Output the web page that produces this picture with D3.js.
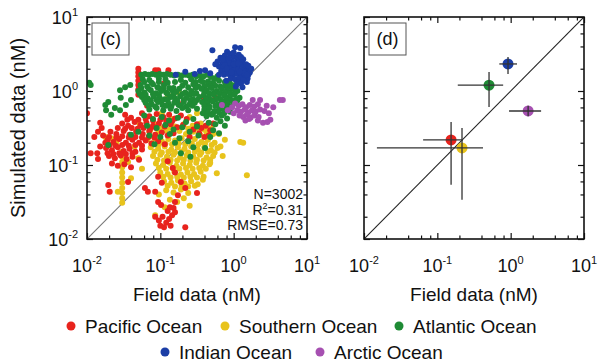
<!DOCTYPE html>
<meta charset="utf-8">
<script src="https://d3js.org/d3.v7.min.js"></script>
<style>
    body { margin: 0; background: #fff; }
    text { font-family: "Liberation Sans", Arial, Helvetica, sans-serif; fill: #111; }
</style>

<div id="base"></div>

<script>
    // panel (c): individual samples, [log10 field, log10 simulated] in nM
    var pacific = [
        [-2.00, -0.30], [-1.95, -0.84], [-1.86, -0.84], [-1.82, -0.43], [-1.78, -0.60], [-1.75, -0.70],
        [-1.85, -0.55], [-1.80, -0.50], [-1.90, -0.62], [-1.82, -0.75], [-1.85, -0.92],
        [-1.30, 0.30], [-1.30, 0.25], [-1.30, 0.20], [-1.30, 0.14], [-1.30, 0.08], [-1.30, 0.02], [-1.30, -0.05],
        [-1.07, 0.28], [-1.03, 0.28], [-0.89, 0.28], [-0.76, -0.16], [-0.42, -0.08], [-0.39, -0.26], [-0.25, -0.09], [-0.95, 0.10], [-1.18, -0.20],
        [-1.48, -0.32], [-1.40, -0.36], [-1.25, -0.30], [-1.15, -0.34], [-1.05, -0.31], [-0.96, -0.35], [-0.88, -0.32], [-0.80, -0.37], [-0.72, -0.33], [-0.64, -0.38],
        [-1.45, -0.39], [-1.30, -0.39], [-1.20, -0.38], [-1.10, -0.40], [-1.00, -0.39], [-0.92, -0.40], [-0.84, -0.41],
        [-1.52, -0.44], [-1.44, -0.47], [-1.35, -0.42], [-1.27, -0.46], [-1.19, -0.43], [-1.10, -0.47], [-1.02, -0.44], [-0.94, -0.48], [-0.86, -0.45], [-0.77, -0.49], [-0.69, -0.46],
        [-1.58, -0.50], [-1.48, -0.51], [-1.39, -0.50], [-1.31, -0.51], [-1.23, -0.50], [-1.14, -0.51], [-1.06, -0.50],
        [-1.68, -0.55], [-1.60, -0.58], [-1.50, -0.54], [-1.42, -0.59], [-1.33, -0.55], [-1.24, -0.58], [-1.15, -0.54], [-1.07, -0.59], [-0.98, -0.56], [-0.90, -0.60], [-0.82, -0.57],
        [-1.70, -0.62], [-1.60, -0.63], [-1.52, -0.61], [-1.43, -0.63], [-1.34, -0.62], [-1.25, -0.63], [-1.16, -0.62], [-1.08, -0.63],
        [-1.72, -0.66], [-1.64, -0.69], [-1.56, -0.65], [-1.47, -0.70], [-1.38, -0.66], [-1.29, -0.70], [-1.20, -0.67], [-1.12, -0.71], [-1.03, -0.68], [-0.94, -0.72],
        [-1.69, -0.73], [-1.61, -0.74], [-1.52, -0.73], [-1.43, -0.74], [-1.34, -0.73], [-1.25, -0.74],
        [-1.74, -0.77], [-1.66, -0.80], [-1.58, -0.76], [-1.50, -0.81], [-1.42, -0.78], [-1.34, -0.82], [-1.25, -0.79],
        [-1.72, -0.84], [-1.64, -0.85], [-1.56, -0.84], [-1.47, -0.85], [-1.38, -0.84],
        [-1.70, -0.88], [-1.62, -0.91], [-1.54, -0.87], [-1.46, -0.92], [-1.38, -0.89], [-1.29, -0.93],
        [-1.66, -0.98], [-1.58, -1.01], [-1.49, -0.99], [-1.40, -1.03],
        [-0.50, -0.45], [-0.44, -0.50], [-0.38, -0.47], [-0.32, -0.53], [-0.47, -0.57], [-0.40, -0.62], [-0.34, -0.60], [-0.28, -0.44], [-0.55, -0.52], [-0.60, -0.62],
        [-0.90, -0.95], [-0.80, -1.10], [-1.03, -1.16], [-0.98, -1.24], [-0.83, -1.04],
        [-1.71, -1.27], [-1.69, -1.36], [-1.44, -1.23], [-1.21, -1.31], [-1.17, -1.36], [-1.07, -1.36], [-1.03, -1.50], [-0.99, -1.54],
        [-0.76, -1.41], [-0.66, -1.31], [-0.72, -1.23], [-0.50, -1.38], [-0.87, -1.57], [-0.80, -1.50],
        [-1.07, -1.70], [-1.02, -1.75], [-0.97, -1.70], [-0.92, -1.78], [-0.88, -1.73], [-0.84, -1.68], [-0.80, -1.64], [-0.95, -1.84],
        [-1.00, -1.82], [-0.86, -1.82], [-0.90, -1.62], [-0.82, -1.58], [-0.66, -1.84]
    ];
    var southern = [
        [-1.05, -0.46], [-0.92, -0.44], [-0.80, -0.48], [-0.68, -0.45], [-0.56, -0.47], [-0.45, -0.44], [-0.36, -0.49],
        [-1.00, -0.50], [-0.86, -0.51], [-0.74, -0.50], [-0.62, -0.51], [-0.50, -0.50], [-0.40, -0.52], [-0.30, -0.51],
        [-1.15, -0.55], [-1.03, -0.57], [-0.93, -0.53], [-0.84, -0.56], [-0.74, -0.54], [-0.65, -0.58], [-0.55, -0.55], [-0.46, -0.59], [-0.37, -0.56], [-0.28, -0.58],
        [-1.18, -0.66], [-1.08, -0.64], [-0.98, -0.68], [-0.89, -0.65], [-0.80, -0.67], [-0.71, -0.64], [-0.62, -0.68], [-0.53, -0.65], [-0.44, -0.69], [-0.35, -0.66], [-0.26, -0.70],
        [-1.12, -0.71], [-1.02, -0.72], [-0.93, -0.71], [-0.84, -0.72], [-0.75, -0.71], [-0.66, -0.72], [-0.57, -0.71], [-0.48, -0.72], [-0.39, -0.71], [-0.30, -0.73],
        [-1.13, -0.76], [-1.03, -0.78], [-0.94, -0.75], [-0.85, -0.79], [-0.76, -0.76], [-0.67, -0.78], [-0.58, -0.75], [-0.49, -0.79], [-0.40, -0.76], [-0.31, -0.80], [-0.22, -0.77],
        [-1.08, -0.82], [-0.98, -0.83], [-0.89, -0.82], [-0.80, -0.83], [-0.71, -0.82], [-0.62, -0.83], [-0.53, -0.82], [-0.44, -0.83], [-0.35, -0.82], [-0.26, -0.83],
        [-1.10, -0.88], [-1.00, -0.86], [-0.91, -0.89], [-0.82, -0.86], [-0.73, -0.90], [-0.64, -0.87], [-0.55, -0.89], [-0.46, -0.86], [-0.37, -0.90], [-0.28, -0.88],
        [-1.04, -0.93], [-0.95, -0.94], [-0.86, -0.93], [-0.77, -0.94], [-0.68, -0.93], [-0.59, -0.94], [-0.50, -0.93], [-0.41, -0.94], [-0.32, -0.93],
        [-1.06, -0.98], [-0.96, -1.00], [-0.87, -0.97], [-0.78, -1.01], [-0.69, -0.98], [-0.60, -1.00], [-0.51, -0.97], [-0.42, -1.01], [-0.33, -0.99],
        [-1.02, -1.04], [-0.92, -1.05], [-0.83, -1.04], [-0.74, -1.05], [-0.65, -1.04], [-0.56, -1.05], [-0.47, -1.04], [-0.38, -1.05],
        [-1.00, -1.10], [-0.90, -1.12], [-0.81, -1.09], [-0.72, -1.13], [-0.63, -1.10], [-0.54, -1.12], [-0.45, -1.09],
        [-0.96, -1.16], [-0.86, -1.17], [-0.77, -1.16], [-0.68, -1.17], [-0.59, -1.16], [-0.50, -1.17], [-0.41, -1.16],
        [-0.95, -1.22], [-0.85, -1.24], [-0.76, -1.21], [-0.67, -1.25], [-0.58, -1.22], [-0.49, -1.26],
        [-0.90, -1.28], [-0.80, -1.29], [-0.71, -1.28], [-0.62, -1.29], [-0.53, -1.28],
        [-0.92, -1.34], [-0.82, -1.37], [-0.72, -1.33], [-0.62, -1.38], [-0.87, -1.47], [-0.77, -1.50], [-0.68, -1.45],
        [-1.07, -1.68], [-0.94, -1.57], [-1.02, -1.40], [-0.60, -1.55],
        [0.09, -0.69], [0.13, -0.70], [-0.23, -1.11], [0.18, -1.14], [-0.42, -1.20], [-0.32, -0.97], [-0.12, -0.66], [-0.18, -0.75], [-0.15, -0.88], [-0.20, -0.58],
        [-1.14, -0.53], [-0.98, -0.30], [-0.84, -0.38], [-0.60, -0.35], [-0.90, -0.05], [-0.75, -0.02], [-0.50, -0.30], [-1.28, -0.45],
        [-1.75, -0.62], [-1.67, -0.64], [-1.44, -0.96], [-1.30, -0.91], [-1.40, -1.18], [-1.58, -1.36], [-1.35, -0.75], [-1.25, -1.05], [-1.60, -0.70],
        [-1.52, -0.82], [-1.52, -0.89], [-1.52, -0.96], [-1.52, -1.03], [-1.52, -1.10], [-1.52, -1.17], [-1.52, -1.24], [-1.52, -1.31],
        [-1.52, -1.38], [-1.52, -1.45], [-1.52, -1.51]
    ];
    var atlantic = [
        [-1.26, 0.22], [-1.21, 0.23], [-1.16, 0.22], [-1.11, 0.23], [-1.06, 0.22], [-1.01, 0.23], [-0.96, 0.22], [-0.91, 0.23], [-0.86, 0.22], [-0.81, 0.21], [-0.76, 0.22],
        [-0.71, 0.21], [-0.66, 0.22], [-0.61, 0.21], [-0.56, 0.22], [-0.51, 0.20], [-0.46, 0.21], [-0.41, 0.20], [-0.36, 0.22], [-0.31, 0.19], [-0.26, 0.17], [-0.22, 0.20],
        [-1.24, 0.16], [-1.15, 0.15], [-1.02, 0.17], [-0.93, 0.16], [-0.72, 0.15], [-0.58, 0.16], [-0.45, 0.14], [-0.35, 0.13],
        [-1.22, 0.12], [-1.12, 0.11], [-1.02, 0.12], [-0.90, 0.11], [-0.80, 0.12], [-0.66, 0.11], [-0.52, 0.12],
        [-1.27, 0.08], [-1.18, 0.06], [-1.10, 0.09], [-1.04, 0.05], [-0.95, 0.08], [-0.88, 0.04], [-0.70, 0.07], [-0.62, 0.05], [-0.55, 0.09], [-0.48, 0.06],
        [-1.26, 0.04], [-1.16, 0.03], [-1.02, 0.04], [-0.96, 0.03], [-0.82, 0.04], [-0.74, 0.03], [-0.52, 0.04],
        [-1.30, 0.00], [-1.22, -0.02], [-1.13, 0.01], [-1.06, -0.03], [-0.99, 0.00], [-0.92, -0.02], [-0.84, 0.01], [-0.78, -0.01], [-0.66, -0.02], [-0.58, 0.00], [-0.51, -0.03],
        [-1.28, -0.04], [-1.20, -0.05], [-1.10, -0.04], [-1.02, -0.05], [-0.90, -0.04], [-0.82, -0.05], [-0.70, -0.04], [-0.60, -0.05], [-0.54, -0.04],
        [-1.25, -0.08], [-1.17, -0.10], [-1.09, -0.07], [-1.01, -0.09], [-0.94, -0.11], [-0.86, -0.08], [-0.80, -0.10], [-0.73, -0.07], [-0.64, -0.09], [-0.56, -0.11], [-0.47, -0.08],
        [-1.22, -0.12], [-1.13, -0.13], [-1.05, -0.12], [-0.98, -0.13], [-0.90, -0.12], [-0.77, -0.13], [-0.68, -0.12], [-0.59, -0.13], [-0.50, -0.12],
        [-1.20, -0.16], [-1.12, -0.18], [-1.03, -0.15], [-0.97, -0.19], [-0.89, -0.17], [-0.81, -0.16], [-0.75, -0.19], [-0.68, -0.15], [-0.60, -0.18], [-0.53, -0.16],
        [-1.16, -0.20], [-1.07, -0.21], [-0.92, -0.20], [-0.85, -0.21], [-0.72, -0.20], [-0.64, -0.21], [-0.56, -0.20],
        [-1.15, -0.25], [-1.05, -0.23], [-0.96, -0.26], [-0.86, -0.24], [-0.78, -0.27], [-0.70, -0.23], [-0.62, -0.26], [-0.50, -0.24],
        [-0.42, 0.12], [-0.35, 0.09], [-0.28, 0.11], [-0.20, 0.14], [-0.12, 0.12], [-0.05, 0.10], [0.02, 0.08],
        [-0.40, 0.06], [-0.32, 0.06], [-0.25, 0.07], [-0.18, 0.06], [-0.11, 0.07], [-0.04, 0.06],
        [-0.44, 0.03], [-0.37, 0.01], [-0.30, 0.04], [-0.23, 0.00], [-0.16, 0.03], [-0.09, 0.01], [-0.02, 0.03], [0.05, 0.00],
        [-0.40, -0.02], [-0.33, -0.03], [-0.26, -0.02], [-0.19, -0.03], [-0.12, -0.02], [-0.05, -0.03], [0.02, -0.02],
        [-0.41, -0.06], [-0.34, -0.08], [-0.27, -0.05], [-0.20, -0.09], [-0.13, -0.06], [-0.06, -0.08], [0.01, -0.05], [0.08, -0.09],
        [-0.38, -0.11], [-0.31, -0.12], [-0.24, -0.11], [-0.17, -0.12], [-0.10, -0.11], [-0.03, -0.12], [0.04, -0.11],
        [-0.43, -0.15], [-0.36, -0.17], [-0.29, -0.14], [-0.22, -0.18], [-0.15, -0.15], [-0.08, -0.17], [-0.01, -0.14], [0.05, -0.13],
        [-0.40, -0.20], [-0.33, -0.21], [-0.25, -0.20], [-0.18, -0.21], [-0.10, -0.20], [-0.03, -0.21],
        [-0.40, -0.25], [-0.33, -0.23], [-0.26, -0.27], [-0.19, -0.24], [-0.12, -0.26], [-0.05, -0.28],
        [-0.42, -0.30], [-0.35, -0.29], [-0.28, -0.30], [-0.20, -0.29], [-0.13, -0.30],
        [-0.37, -0.34], [-0.30, -0.32], [-0.23, -0.36], [-0.16, -0.33], [-0.09, -0.37],
        [-0.34, -0.43], [-0.25, -0.45], [-0.18, -0.41], [-0.12, -0.47], [-0.28, -0.53], [-0.20, -0.57], [-0.32, -0.62],
        [-1.22, -0.33], [-1.10, -0.38], [-0.98, -0.35], [-0.88, -0.40], [-0.76, -0.36], [-0.65, -0.42], [-0.55, -0.38],
        [-1.18, -0.47], [-1.05, -0.50], [-0.93, -0.46], [-0.82, -0.52], [-0.70, -0.49], [-0.60, -0.55], [-0.50, -0.48],
        [-1.15, -0.60], [-1.00, -0.62], [-0.87, -0.58], [-0.74, -0.64], [-0.62, -0.68], [-0.48, -0.60],
        [-1.30, -0.55], [-1.08, -0.72], [-0.80, -0.70], [-0.55, -0.76],
        [-1.97, 0.11], [-1.95, 0.08], [-1.55, 0.01], [-1.48, 0.05], [-1.41, 0.08], [-1.71, -0.15], [-1.75, -0.19], [-1.74, -0.26],
        [-1.67, -0.32], [-1.62, -0.23], [-1.55, -0.26], [-1.47, -0.19], [-1.40, -0.12], [-1.54, -0.09], [-1.71, -0.73], [-1.40, -0.59],
        [-0.59, -0.89], [-0.39, -0.77], [-0.72, -0.84]
    ];
    var indian = [
        [-0.29, 0.55], [-0.09, 0.53], [0.02, 0.59], [0.09, 0.58], [-0.39, 0.28], [-0.32, 0.24], [0.20, 0.22], [0.18, 0.12],
        [-0.66, 0.26], [-0.79, 0.22], [-0.53, 0.23], [-0.46, 0.27],
        [-0.18, 0.45], [-0.12, 0.48], [-0.05, 0.50], [0.00, 0.46], [0.05, 0.44], [-0.15, 0.38], [-0.10, 0.41], [-0.03, 0.40], [0.03, 0.39],
        [0.08, 0.41], [0.12, 0.38], [-0.20, 0.33], [-0.14, 0.32], [-0.08, 0.35], [-0.02, 0.34], [0.04, 0.33], [0.09, 0.35], [0.14, 0.33],
        [0.18, 0.31], [0.21, 0.28], [-0.17, 0.27], [-0.11, 0.28], [-0.05, 0.29], [0.01, 0.28], [0.06, 0.29], [0.11, 0.28], [0.16, 0.26],
        [0.22, 0.25], [-0.13, 0.22], [-0.07, 0.23], [-0.01, 0.22], [0.05, 0.23], [0.10, 0.22], [0.15, 0.20], [0.19, 0.17], [-0.04, 0.17],
        [0.02, 0.16], [0.08, 0.17], [0.13, 0.15], [0.05, 0.11], [0.10, 0.10], [-0.22, 0.40], [-0.25, 0.36], [0.00, 0.52], [0.07, 0.49],
        [-0.07, 0.44], [0.13, 0.43], [0.17, 0.36], [0.24, 0.30], [-0.20, 0.22], [0.03, 0.06], [-0.10, 0.14], [0.12, 0.05],
        [-0.15, 0.43], [0.10, 0.46], [-0.06, 0.38], [0.00, 0.36], [0.06, 0.37], [-0.12, 0.35], [0.20, 0.34], [-0.09, 0.30],
        [0.14, 0.24], [0.08, 0.26], [-0.03, 0.25], [0.18, 0.22]
    ];
    var arctic = [
        [0.67, -0.12], [0.63, -0.12], [0.54, -0.22], [0.50, -0.39], [0.46, -0.42], [0.26, -0.12], [0.36, -0.12], [-0.16, -0.19],
        [-0.08, -0.26], [0.33, -0.40], [0.40, -0.43],
        [0.02, -0.17], [0.07, -0.20], [0.12, -0.18], [0.17, -0.22], [0.22, -0.19], [0.28, -0.21], [0.33, -0.18], [0.05, -0.26],
        [0.10, -0.28], [0.15, -0.25], [0.20, -0.29], [0.25, -0.26], [0.30, -0.28], [0.36, -0.25], [0.42, -0.27], [0.08, -0.33],
        [0.13, -0.35], [0.18, -0.32], [0.23, -0.36], [0.28, -0.33], [0.34, -0.35], [0.16, -0.40], [0.21, -0.38], [0.45, -0.20],
        [0.48, -0.30], [-0.02, -0.22], [0.00, -0.30]
    ];

    // panel (d): basin means (nM) with spread
    var oceans = ["Pacific Ocean", "Southern Ocean", "Atlantic Ocean", "Indian Ocean", "Arctic Ocean"];
    var meanField = [0.154, 0.217, 0.507, 0.92, 1.73];
    var meanSim = [0.218, 0.170, 1.20, 2.32, 0.537];
    var fieldLow = [0.064, 0.015, 0.19, 0.70, 0.95];
    var fieldHigh = [0.224, 0.42, 0.79, 1.22, 2.6];
    var simLow = [0.054, 0.034, 0.61, 1.70, 0.457];
    var simHigh = [0.38, 0.316, 1.81, 2.88, 0.63];

    var stats = ["N=3002", "0.31", "RMSE=0.73"];
    var majorTicks = [0.01, 0.1, 1, 10];
    var minorTicks = [0.02, 0.04, 0.06, 0.08, 0.2, 0.4, 0.6, 0.8, 2, 4, 6, 8];

    var colors = ["#e8231d", "#e8c31c", "#1f8b35", "#1b3ea6", "#a650b1"];

    var plotTop = 17, plotBottom = 239;

    var svg = d3.select("#base")
        .append("svg")
        .attr("width", 599)
        .attr("height", 363);

    function frame(left, right, clipId) {
        var x = d3.scaleLog().domain([0.01, 10]).range([left, right]);
        var y = d3.scaleLog().domain([0.01, 10]).range([plotBottom, plotTop]);

        svg.append("clipPath")
            .attr("id", clipId)
            .append("rect")
            .attr("x", left).attr("y", plotTop)
            .attr("width", right - left).attr("height", plotBottom - plotTop);

        // inward ticks on all four sides
        var axes = [
            [d3.axisBottom(x), "translate(0," + plotBottom + ")"],
            [d3.axisTop(x), "translate(0," + plotTop + ")"],
            [d3.axisLeft(y), "translate(" + left + ",0)"],
            [d3.axisRight(y), "translate(" + right + ",0)"]
        ];
        axes.forEach(function (a) {
            [[majorTicks, 6], [minorTicks, 3.5]].forEach(function (t) {
                var g = svg.append("g")
                    .attr("transform", a[1])
                    .call(a[0].tickValues(t[0]).tickSize(-t[1]).tickFormat(""));
                g.select(".domain").remove();
                g.selectAll("line").attr("stroke", "#111").attr("stroke-width", 1.2);
            });
        });

        // x tick labels
        majorTicks.forEach(function (m) {
            var e = Math.round(Math.log10(m));
            var t = svg.append("text")
                .attr("x", x(m))
                .attr("y", 272)
                .attr("text-anchor", "middle")
                .attr("font-size", 18);
            t.append("tspan").text("10");
            t.append("tspan").attr("dy", -8).attr("font-size", 11).text(e);
        });

        svg.append("text")
            .attr("x", (left + right) / 2)
            .attr("y", 301)
            .attr("text-anchor", "middle")
            .attr("font-size", 19)
            .text("Field data (nM)");

        return { x: x, y: y };
    }

    function panelTag(left, name) {
        svg.append("rect")
            .attr("x", left + 5).attr("y", 23)
            .attr("width", 37).attr("height", 32)
            .attr("fill", "#fff")
            .attr("stroke", "#555")
            .attr("stroke-width", 1);
        svg.append("text")
            .attr("x", left + 23.5)
            .attr("y", 45)
            .attr("text-anchor", "middle")
            .attr("font-size", 18)
            .text(name);
    }

    function border(left, right) {
        svg.append("rect")
            .attr("x", left).attr("y", plotTop)
            .attr("width", right - left).attr("height", plotBottom - plotTop)
            .attr("fill", "none")
            .attr("stroke", "#111")
            .attr("stroke-width", 1.6);
    }

    // ---- panel (c)
    var c = frame(87, 307, "clipC");

    majorTicks.forEach(function (m) {
        var e = Math.round(Math.log10(m));
        var t = svg.append("text")
            .attr("x", 78)
            .attr("y", c.y(m) + 7)
            .attr("text-anchor", "end")
            .attr("font-size", 18);
        t.append("tspan").text("10");
        t.append("tspan").attr("dy", -8).attr("font-size", 11).text(e);
    });

    svg.append("text")
        .attr("transform", "translate(25," + ((plotTop + plotBottom) / 2) + ") rotate(-90)")
        .attr("text-anchor", "middle")
        .attr("font-size", 20)
        .text("Simulated data (nM)");

    var scatter = svg.append("g").attr("clip-path", "url(#clipC)");

    scatter.append("line")
        .attr("x1", c.x(0.01)).attr("y1", c.y(0.01))
        .attr("x2", c.x(10)).attr("y2", c.y(10))
        .attr("stroke", "#777")
        .attr("stroke-width", 1.1);

    [[southern, 1], [pacific, 0], [atlantic, 2], [indian, 3], [arctic, 4]].forEach(function (s) {
        scatter.append("g")
            .selectAll("circle")
            .data(s[0])
            .enter()
            .append("circle")
            .attr("cx", function (d) { return c.x(Math.pow(10, d[0])); })
            .attr("cy", function (d) { return c.y(Math.pow(10, d[1])); })
            .attr("r", 3)
            .style("fill", colors[s[1]]);
    });

    border(87, 307);
    panelTag(87, "(c)");

    var st = svg.append("g").attr("font-size", 14).attr("text-anchor", "end");
    st.append("text").attr("x", 303).attr("y", 199).text(stats[0]);
    var r2 = st.append("text").attr("x", 303).attr("y", 214.5);
    r2.append("tspan").text("R");
    r2.append("tspan").attr("dy", -6).attr("font-size", 9).text("2");
    r2.append("tspan").attr("dy", 6).text("=" + stats[1]);
    st.append("text").attr("x", 303).attr("y", 230).text(stats[2]);

    // ---- panel (d)
    var d = frame(364, 584, "clipD");
    var means = svg.append("g").attr("clip-path", "url(#clipD)");

    means.append("line")
        .attr("x1", d.x(0.01)).attr("y1", d.y(0.01))
        .attr("x2", d.x(10)).attr("y2", d.y(10))
        .attr("stroke", "#222")
        .attr("stroke-width", 1.1);

    means.selectAll(".dot")
        .data(oceans)
        .enter()
        .append("circle")
        .attr("cx", function (o, i) { return d.x(meanField[i]); })
        .attr("cy", function (o, i) { return d.y(meanSim[i]); })
        .attr("r", 5.5)
        .style("fill", function (o, i) { return colors[i]; });

    means.selectAll(".hbar")
        .data(oceans)
        .enter()
        .append("line")
        .attr("x1", function (o, i) { return d.x(fieldLow[i]); })
        .attr("x2", function (o, i) { return d.x(fieldHigh[i]); })
        .attr("y1", function (o, i) { return d.y(meanSim[i]); })
        .attr("y2", function (o, i) { return d.y(meanSim[i]); })
        .attr("stroke", "#333")
        .attr("stroke-width", 1.3);

    means.selectAll(".vbar")
        .data(oceans)
        .enter()
        .append("line")
        .attr("x1", function (o, i) { return d.x(meanField[i]); })
        .attr("x2", function (o, i) { return d.x(meanField[i]); })
        .attr("y1", function (o, i) { return d.y(simLow[i]); })
        .attr("y2", function (o, i) { return d.y(simHigh[i]); })
        .attr("stroke", "#333")
        .attr("stroke-width", 1.3);

    border(364, 584);
    panelTag(364, "(d)");

    // ---- legend
    var legendPos = [[71, 333], [225, 333], [399, 333], [165, 359], [320, 359]];
    oceans.forEach(function (o, i) {
        svg.append("circle")
            .attr("cx", legendPos[i][0])
            .attr("cy", legendPos[i][1] - 7)
            .attr("r", 4.5)
            .style("fill", colors[i]);
        svg.append("text")
            .attr("x", legendPos[i][0] + 14)
            .attr("y", legendPos[i][1])
            .attr("font-size", 19)
            .text(o);
    });
</script>
